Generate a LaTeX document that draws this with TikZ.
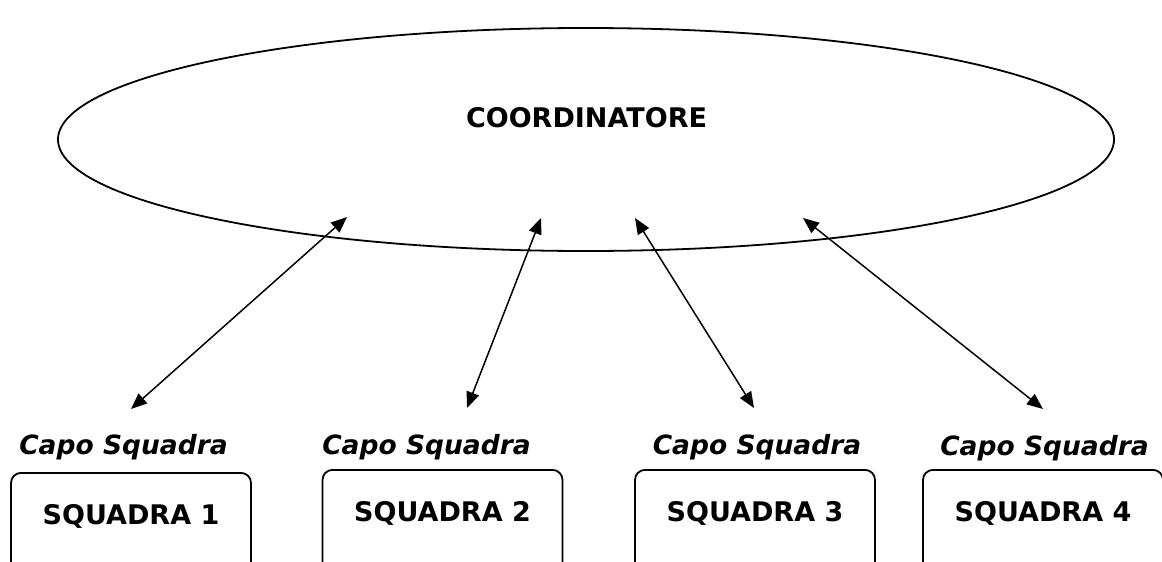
\documentclass[tikz,border=0pt]{standalone}
\usepackage{fontspec}
\setmainfont{DejaVu Sans}
\newfontfamily\boldfont{DejaVu Sans Bold}
\newfontfamily\capofont{DejaVu Sans Bold Oblique}
\usetikzlibrary{shapes.geometric,arrows.meta}
\tikzset{
  bigfont/.style={font=\boldfont\fontsize{27}{32}\selectfont},
  capo/.style={font=\capofont\fontsize{26.5}{31}\selectfont, anchor=base, inner sep=0pt},
  teambox/.style={draw, line width=1.8pt, rounded corners=10pt, minimum width=240pt,
    anchor=north, inner xsep=0pt, inner ysep=0pt, text height=52pt, text depth=70pt, bigfont},
  biarrow/.style={line width=1.5pt, {Triangle[length=16pt,width=13pt]}-{Triangle[length=16pt,width=13pt]}},
}
\begin{document}
\begin{tikzpicture}[x=1pt,y=-1pt]
\useasboundingbox (0,0) rectangle (1162,562);
\clip (0,0) rectangle (1162,562);
\node[draw, ellipse, line width=1.8pt, minimum width=1056pt, minimum height=223pt, inner sep=0pt] (coord) at (586,139.5) {};
\node[bigfont, inner sep=0pt] (coordtext) at (586.5,117.5) {COORDINATORE};

\node[capo] (capo1) at (123.5,454) {Capo Squadra};
\node[capo] (capo2) at (426.5,454) {Capo Squadra};
\node[capo] (capo3) at (757,454) {Capo Squadra};
\node[capo] (capo4) at (1044.5,455) {Capo Squadra};

\node[teambox] (sq1) at (131,472) {SQUADRA 1};
\node[teambox] (sq2) at (442.5,469) {SQUADRA 2};
\node[teambox] (sq3) at (755,469) {SQUADRA 3};
\node[teambox] (sq4) at (1043,469) {SQUADRA 4};

\coordinate (t1) at (347,217);
\coordinate (b1) at (131,409);
\coordinate (t2) at (541,218);
\coordinate (b2) at (467,408);
\coordinate (t3) at (635,218);
\coordinate (b3) at (754,408);
\coordinate (t4) at (803,218);
\coordinate (b4) at (1043,409);

\draw[biarrow] (t1) -- (b1);
\draw[biarrow] (t2) -- (b2);
\draw[biarrow] (t3) -- (b3);
\draw[biarrow] (t4) -- (b4);
\end{tikzpicture}
\end{document}
